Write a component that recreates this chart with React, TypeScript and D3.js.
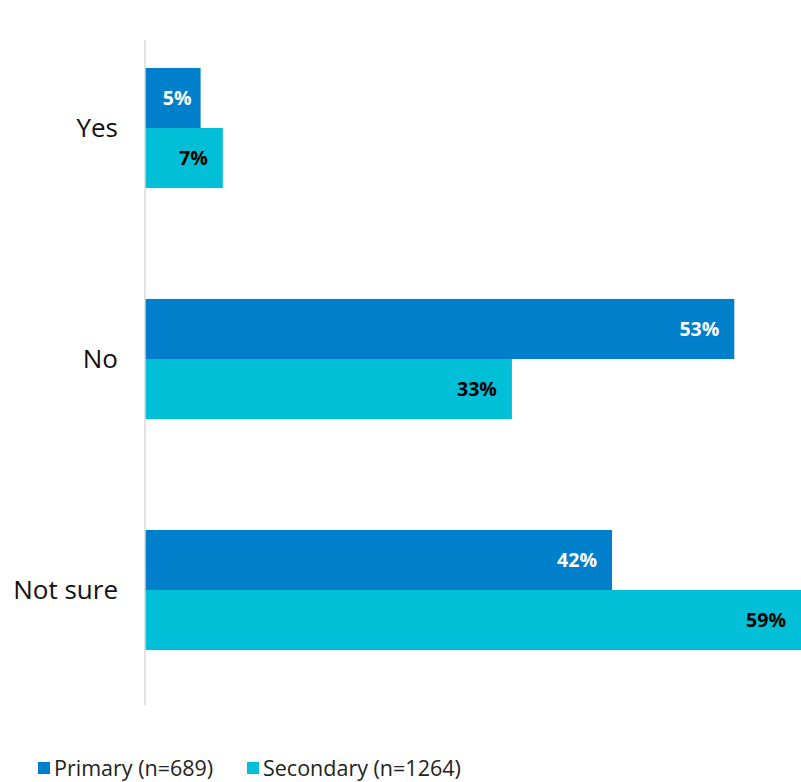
import React from "react";
import * as d3 from "d3";

const categories = ["Yes", "No", "Not sure"];
const primaryValues = [5, 53, 42];
const secondaryValues = [7, 33, 59];
const seriesNames = ["Primary (n=689)", "Secondary (n=1264)"];
const seriesColors = ["#0080CB", "#00BFD6"];
const labelColors = ["#ffffff", "#000000"];

const W = 801;
const H = 782;
const FONT = "'Open Sans', 'DejaVu Sans', sans-serif";

export default function App() {
  const x0 = 145;
  const x = d3.scaleLinear().domain([0, 59]).range([x0, 801]);
  const y = d3
    .scaleBand<string>()
    .domain(categories)
    .range([12.5, 705.5])
    .paddingInner(0.48)
    .paddingOuter(0.24);
  const sub = d3
    .scaleBand<string>()
    .domain(["p", "s"])
    .range([0, y.bandwidth()]);
  const series = [primaryValues, secondaryValues];
  const keys = ["p", "s"];

  return (
    <svg
      width={W}
      height={H}
      style={{ position: "absolute", left: 0, top: 0, display: "block" }}
      fontFamily={FONT}
    >
      <rect width={W} height={H} fill="#fff" />
      {categories.map((c, i) => (
        <g key={c}>
          {series.map((vals, s) => {
            const y0 = (y(c) as number) + (sub(keys[s]) as number);
            const h = sub.bandwidth();
            const xe = x(vals[i]);
            return (
              <g key={s}>
                <rect x={x0} y={y0} width={xe - x0} height={h} fill={seriesColors[s]} />
                <text
                  x={xe - (vals[i] < 6 ? 9 : 15)}
                  y={y0 + h / 2}
                  dy="0.36em"
                  textAnchor="end"
                  fontWeight="bold"
                  fontSize={19.5}
                  fill={labelColors[s]}
                >
                  {vals[i]}%
                </text>
              </g>
            );
          })}
          <text
            x={118}
            y={(y(c) as number) + y.bandwidth() / 2}
            dy="0.36em"
            textAnchor="end"
            fontSize={26}
            fill="#111"
          >
            {c}
          </text>
        </g>
      ))}
      <line x1={x0} x2={x0} y1={40} y2={705} stroke="#d9d9d9" strokeWidth={1.5} />
      {seriesNames.map((n, s) => {
        const lx = s === 0 ? 38 : 247;
        return (
          <g key={n}>
            <rect x={lx} y={762} width={12} height={12} fill={seriesColors[s]} />
            <text x={lx + 16} y={768} dy="0.36em" fontSize={21.5} fill="#222">
              {n}
            </text>
          </g>
        );
      })}
    </svg>
  );
}
